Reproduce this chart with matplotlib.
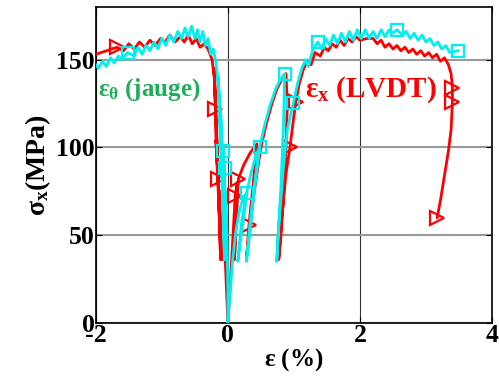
import matplotlib
matplotlib.use("Agg")
import matplotlib.pyplot as plt

# (strain %, stress MPa, marker flag)
red_hoop = [
    (0.00, 0, 0), (-0.02, 18, 0), (-0.04, 36, 0), (-0.07, 58, 0), (-0.10, 75, 0),
    (-0.09, 55, 0), (-0.08, 36, 0), (-0.11, 60, 0), (-0.15, 82, 1), (-0.17, 98, 0),
    (-0.18, 104, 0), (-0.14, 70, 0), (-0.10, 36, 0), (-0.14, 75, 0), (-0.18, 104, 0),
    (-0.19, 122, 1), (-0.20, 138, 0), (-0.21, 145, 0), (-0.16, 95, 0), (-0.11, 36, 0),
    (-0.15, 90, 0), (-0.20, 138, 0), (-0.24, 150, 0), (-0.30, 156, 0), (-0.36, 159, 0),
    (-0.42, 157, 0), (-0.48, 162, 0), (-0.54, 159, 0), (-0.60, 164, 0), (-0.66, 160, 0),
    (-0.72, 163, 0), (-0.80, 160, 0), (-0.88, 164, 0), (-0.95, 160, 0), (-1.02, 162, 0),
    (-1.10, 158, 0), (-1.18, 161, 0), (-1.26, 157, 0), (-1.34, 160, 0), (-1.42, 156, 0),
    (-1.50, 159, 0), (-1.58, 155, 0), (-1.68, 157, 1), (-2.00, 153, 0),
]

red_axial = [
    (0.00, 0, 0), (0.03, 18, 0), (0.06, 38, 0), (0.09, 58, 0), (0.11, 72, 1),
    (0.14, 80, 0), (0.12, 60, 0), (0.10, 36, 0), (0.13, 60, 0), (0.16, 82, 1),
    (0.24, 90, 0), (0.34, 97, 0), (0.44, 102, 0), (0.38, 78, 0), (0.32, 56, 1),
    (0.28, 36, 0), (0.34, 58, 0), (0.42, 80, 0), (0.50, 100, 0), (0.58, 113, 0),
    (0.66, 124, 0), (0.74, 133, 0), (0.82, 139, 0), (0.88, 142, 0), (0.90, 125, 0),
    (0.88, 100, 0), (0.84, 70, 0), (0.80, 48, 0), (0.77, 36, 0), (0.82, 62, 0),
    (0.88, 85, 0), (0.94, 100, 1), (0.99, 115, 0), (1.03, 126, 1), (1.08, 136, 0),
    (1.14, 144, 0), (1.20, 149, 0), (1.26, 147, 0), (1.32, 154, 0), (1.40, 152, 0),
    (1.46, 157, 0), (1.52, 155, 0), (1.58, 159, 0), (1.64, 157, 0), (1.70, 161, 0),
    (1.76, 158, 0), (1.82, 162, 0), (1.88, 160, 0), (1.94, 163, 0), (2.00, 161, 0),
    (2.10, 162, 0), (2.20, 162, 0), (2.26, 159, 0), (2.32, 161, 0), (2.38, 157, 0),
    (2.44, 159, 0), (2.50, 156, 0), (2.56, 158, 0), (2.62, 155, 0), (2.68, 157, 0),
    (2.74, 154, 0), (2.80, 156, 0), (2.86, 153, 0), (2.92, 155, 0), (2.98, 152, 0),
    (3.04, 154, 0), (3.10, 151, 0), (3.16, 153, 0), (3.22, 149, 0), (3.28, 151, 0),
    (3.34, 147, 0), (3.38, 142, 0), (3.40, 134, 1), (3.40, 126, 1), (3.38, 110, 0),
    (3.34, 98, 0), (3.28, 84, 0), (3.22, 70, 0), (3.17, 60, 1),
]

cyan_hoop = [
    (0.00, 0, 0), (0.00, 20, 0), (-0.01, 40, 0), (-0.02, 60, 0), (-0.04, 75, 0),
    (-0.03, 55, 0), (-0.02, 36, 0), (-0.03, 60, 0), (-0.05, 78, 0), (-0.05, 88, 1),
    (-0.07, 100, 0), (-0.05, 70, 0), (-0.03, 36, 0), (-0.05, 70, 0), (-0.08, 98, 1),
    (-0.10, 115, 0), (-0.13, 130, 0), (-0.15, 140, 0), (-0.10, 90, 0), (-0.05, 36, 0),
    (-0.09, 90, 0), (-0.14, 135, 0), (-0.18, 148, 0), (-0.22, 156, 0), (-0.26, 153, 0),
    (-0.30, 162, 0), (-0.34, 158, 0), (-0.38, 166, 0), (-0.42, 160, 0), (-0.46, 167, 0),
    (-0.50, 162, 0), (-0.55, 169, 0), (-0.60, 163, 0), (-0.65, 168, 0), (-0.70, 162, 0),
    (-0.76, 166, 0), (-0.82, 160, 0), (-0.88, 164, 0), (-0.94, 158, 0), (-1.00, 162, 0),
    (-1.06, 156, 0), (-1.12, 160, 0), (-1.18, 155, 0), (-1.24, 158, 0), (-1.30, 153, 0),
    (-1.36, 157, 0), (-1.42, 152, 0), (-1.52, 154, 1), (-1.60, 150, 0), (-1.66, 152, 0),
    (-1.72, 148, 0), (-1.78, 151, 0), (-1.84, 146, 0), (-1.90, 149, 0), (-1.96, 145, 0),
    (-2.00, 147, 0),
]

cyan_axial = [
    (0.00, 0, 0), (0.03, 15, 0), (0.07, 35, 0), (0.12, 52, 0), (0.18, 65, 0),
    (0.24, 72, 0), (0.29, 74, 1), (0.22, 55, 0), (0.15, 35, 0), (0.20, 55, 0),
    (0.27, 72, 0), (0.35, 85, 0), (0.42, 95, 0), (0.48, 100, 1), (0.40, 75, 0),
    (0.33, 50, 0), (0.28, 35, 0), (0.33, 55, 0), (0.40, 78, 0), (0.48, 100, 0),
    (0.56, 113, 0), (0.64, 124, 0), (0.72, 133, 0), (0.80, 139, 0), (0.86, 142, 1),
    (0.84, 110, 0), (0.80, 75, 0), (0.76, 50, 0), (0.74, 35, 0), (0.78, 60, 0),
    (0.84, 88, 0), (0.90, 110, 0), (0.99, 125, 1), (1.06, 137, 0), (1.12, 145, 0),
    (1.18, 150, 0), (1.22, 146, 0), (1.28, 155, 0), (1.36, 160, 1), (1.42, 156, 0),
    (1.48, 162, 0), (1.54, 158, 0), (1.60, 164, 0), (1.66, 159, 0), (1.72, 165, 0),
    (1.78, 160, 0), (1.84, 166, 0), (1.90, 161, 0), (1.96, 167, 0), (2.02, 162, 0),
    (2.08, 167, 0), (2.14, 162, 0), (2.20, 166, 0), (2.26, 162, 0), (2.32, 167, 0),
    (2.38, 163, 0), (2.44, 167, 0), (2.50, 165, 0), (2.56, 167, 1), (2.64, 164, 0),
    (2.70, 166, 0), (2.76, 162, 0), (2.82, 165, 0), (2.88, 161, 0), (2.94, 164, 0),
    (3.00, 160, 0), (3.06, 162, 0), (3.12, 158, 0), (3.18, 160, 0), (3.24, 156, 0),
    (3.30, 158, 0), (3.36, 154, 0), (3.48, 155, 1),
]

x_ticks = [-2, 0, 2, 4]
y_ticks = [0, 50, 100, 150]

plt.rcParams["font.family"] = "Liberation Serif"
plt.rcParams["font.weight"] = "bold"
plt.rcParams["axes.labelweight"] = "bold"
plt.rcParams["axes.unicode_minus"] = False
plt.rcParams["mathtext.fontset"] = "custom"
plt.rcParams["mathtext.rm"] = "Liberation Serif:bold"
plt.rcParams["mathtext.it"] = "Liberation Serif:bold"
plt.rcParams["mathtext.bf"] = "Liberation Serif:bold"

fig = plt.figure(figsize=(4.99, 3.83), dpi=100)
ax = fig.add_axes([0.192, 0.157, 0.794, 0.825])


def draw(curve, color, marker, ms):
    xs = [p[0] for p in curve]
    ys = [p[1] for p in curve]
    marks = [i for i, p in enumerate(curve) if p[2]]
    ax.plot(xs, ys, color=color, lw=2.0, marker=marker, ms=ms, mfc="none",
            mec=color, mew=1.6, markevery=marks, zorder=3)


draw(red_hoop, "#ff0000", ">", 10)
draw(red_axial, "#ff0000", ">", 10)
draw(cyan_hoop, "#00f0f0", "s", 8)
draw(cyan_axial, "#00f0f0", "s", 8)

ax.set_xlim(-2, 4)
ax.set_ylim(0, 180)
ax.set_xticks(x_ticks)
ax.set_yticks(y_ticks)
ax.grid(axis="y", color="#999999", lw=1.5)
ax.grid(axis="x", color="#333333", lw=0.8)
ax.set_axisbelow(True)
ax.tick_params(direction="in", top=True, right=True, length=4, labelsize=18.5, pad=1)
for s in ax.spines.values():
    s.set_linewidth(1.2)

ax.set_xlabel(r"$\varepsilon$ (%)", fontsize=18, fontweight="bold", labelpad=-1)
ax.set_ylabel(r"$\sigma_x$(MPa)", fontsize=20, fontweight="bold", labelpad=2)

ax.text(-1.97, 133, r"$\varepsilon_\theta$ (jauge)", color="#1fae5a", fontsize=18,
        fontweight="bold", va="center", ha="left", zorder=4)
ax.text(1.17, 133, r"$\varepsilon_x$ (LVDT)", color="#ff0000", fontsize=21,
        fontweight="bold", va="center", ha="left", zorder=4)

fig.savefig("out.png", dpi=100)
